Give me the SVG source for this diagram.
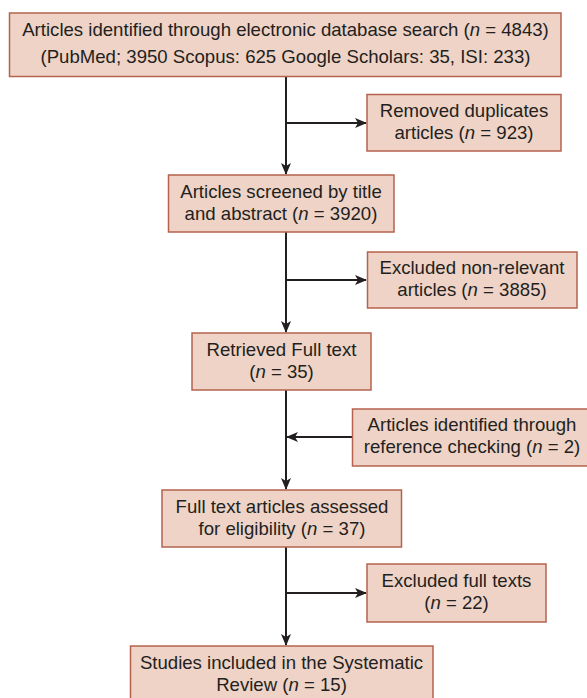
<svg xmlns="http://www.w3.org/2000/svg" width="587" height="698" viewBox="0 0 587 698">
<style>
.box{fill:#eed3c6;stroke:#b5634e;stroke-width:1.5}
text{font-family:"Liberation Sans",Arial,sans-serif;font-size:18.6px;fill:#231f20;text-anchor:middle}
.it{font-style:italic}
.ln{stroke:#231f20;stroke-width:2;fill:none}
</style>
<defs>
<marker id="ah" markerUnits="userSpaceOnUse" markerWidth="12" markerHeight="10" refX="11" refY="5" orient="auto">
<path d="M0,0 L12,5 L0,10 L3,5 Z" fill="#231f20"/>
</marker>
</defs>
<rect width="587" height="698" fill="#ffffff"/>
<g id="connectors">
<line class="ln" x1="286" y1="77" x2="286" y2="174" marker-end="url(#ah)"/>
<line class="ln" x1="286" y1="123" x2="366" y2="123" marker-end="url(#ah)"/>
<line class="ln" x1="286" y1="232" x2="286" y2="332" marker-end="url(#ah)"/>
<line class="ln" x1="286" y1="280" x2="366" y2="280" marker-end="url(#ah)"/>
<line class="ln" x1="286" y1="390" x2="286" y2="489" marker-end="url(#ah)"/>
<line class="ln" x1="352" y1="437" x2="287" y2="437" marker-end="url(#ah)"/>
<line class="ln" x1="286" y1="547" x2="286" y2="645" marker-end="url(#ah)"/>
<line class="ln" x1="286" y1="593" x2="366" y2="593" marker-end="url(#ah)"/>
</g>
<g id="n1">
<rect class="box" x="9.5" y="13" width="551.5" height="63.5"/>
<text x="285.5" y="36">Articles identified through electronic database search (<tspan class="it">n</tspan> = 4843)</text>
<text x="285.5" y="63">(PubMed; 3950 Scopus: 625 Google Scholars: 35, ISI: 233)</text>
</g>
<g id="n2">
<rect class="box" x="367" y="94.5" width="194" height="56.5"/>
<text x="464" y="117">Removed duplicates</text>
<text x="464" y="139">articles (<tspan class="it">n</tspan> = 923)</text>
</g>
<g id="n3">
<rect class="box" x="168.5" y="175" width="225.5" height="57"/>
<text x="281" y="198">Articles screened by title</text>
<text x="281" y="220">and abstract (<tspan class="it">n</tspan> = 3920)</text>
</g>
<g id="n4">
<rect class="box" x="367.5" y="252" width="209.5" height="56"/>
<text x="472" y="274">Excluded non-relevant</text>
<text x="472" y="296">articles (<tspan class="it">n</tspan> = 3885)</text>
</g>
<g id="n5">
<rect class="box" x="192" y="333" width="179" height="57"/>
<text x="281.5" y="356">Retrieved Full text</text>
<text x="281.5" y="378">(<tspan class="it">n</tspan> = 35)</text>
</g>
<g id="n6">
<rect class="box" x="352.5" y="409" width="240" height="57"/>
<text x="472" y="431">Articles identified through</text>
<text x="472" y="453">reference checking (<tspan class="it">n</tspan> = 2)</text>
</g>
<g id="n7">
<rect class="box" x="162" y="490" width="239.5" height="57"/>
<text x="282" y="513">Full text articles assessed</text>
<text x="282" y="535">for eligibility (<tspan class="it">n</tspan> = 37)</text>
</g>
<g id="n8">
<rect class="box" x="367" y="564" width="179" height="58"/>
<text x="456.5" y="587">Excluded full texts</text>
<text x="456.5" y="609">(<tspan class="it">n</tspan> = 22)</text>
</g>
<g id="n9">
<rect class="box" x="130.5" y="646" width="302.5" height="60"/>
<text x="281.5" y="669">Studies included in the Systematic</text>
<text x="281.5" y="691">Review (<tspan class="it">n</tspan> = 15)</text>
</g>
</svg>
